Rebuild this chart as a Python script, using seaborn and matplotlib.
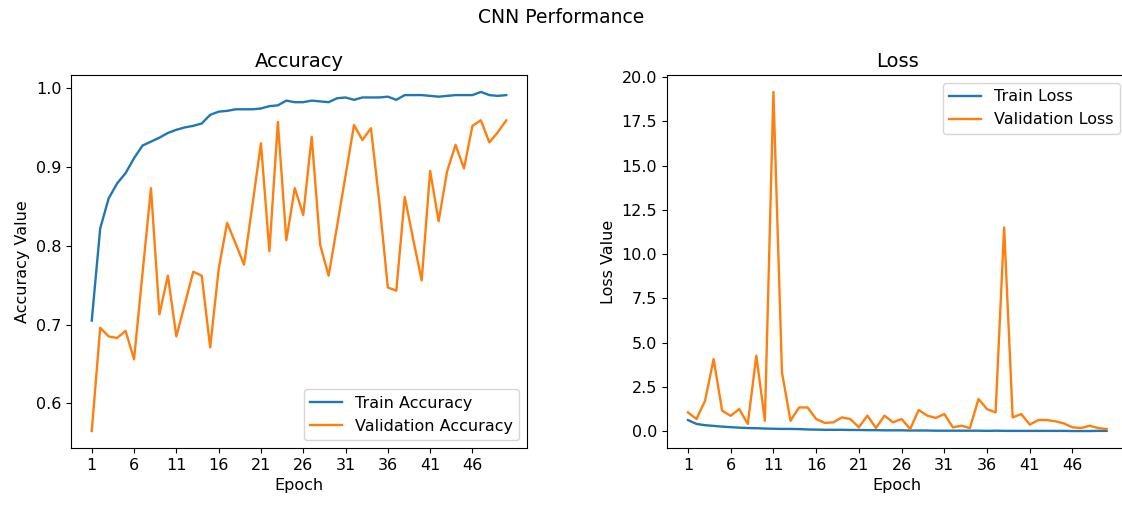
import pandas as pd
import numpy as np
import matplotlib.pyplot as plt
import seaborn as sns

# valores (50 épocas)
epochs = list(range(1, 51))

train_acc = [0.705, 0.822, 0.860, 0.879, 0.892, 0.911, 0.927, 0.932, 0.937, 0.943,
             0.947, 0.950, 0.952, 0.955, 0.966, 0.970, 0.971, 0.973, 0.973, 0.973,
             0.974, 0.977, 0.978, 0.984, 0.982, 0.982, 0.984, 0.983, 0.982, 0.987,
             0.988, 0.985, 0.988, 0.988, 0.988, 0.989, 0.985, 0.991, 0.991, 0.991,
             0.990, 0.989, 0.990, 0.991, 0.991, 0.991, 0.995, 0.991, 0.990, 0.991]

val_acc = [0.565, 0.696, 0.685, 0.683, 0.692, 0.656, 0.765, 0.873, 0.713, 0.762,
           0.685, 0.726, 0.767, 0.762, 0.671, 0.770, 0.829, 0.803, 0.776, 0.852,
           0.930, 0.793, 0.957, 0.807, 0.873, 0.839, 0.938, 0.801, 0.762, 0.825,
           0.889, 0.953, 0.934, 0.949, 0.855, 0.747, 0.743, 0.862, 0.808, 0.756,
           0.895, 0.831, 0.894, 0.928, 0.898, 0.952, 0.959, 0.931, 0.944, 0.959]

train_loss = [0.64, 0.42, 0.35, 0.31, 0.27, 0.24, 0.21, 0.19, 0.18, 0.16,
              0.15, 0.14, 0.14, 0.13, 0.11, 0.10, 0.09, 0.09, 0.09, 0.08,
              0.08, 0.07, 0.07, 0.06, 0.06, 0.06, 0.05, 0.05, 0.05, 0.04,
              0.04, 0.04, 0.04, 0.04, 0.04, 0.03, 0.04, 0.03, 0.03, 0.03,
              0.03, 0.03, 0.03, 0.03, 0.03, 0.02, 0.02, 0.02, 0.03, 0.03]

val_loss = [1.07, 0.70, 1.73, 4.08, 1.17, 0.88, 1.26, 0.42, 4.27, 0.60,
            19.15, 3.33, 0.60, 1.35, 1.35, 0.70, 0.48, 0.51, 0.79, 0.70,
            0.23, 0.89, 0.19, 0.89, 0.51, 0.70, 0.13, 1.21, 0.89, 0.76,
            0.98, 0.23, 0.32, 0.19, 1.83, 1.26, 1.07, 11.5, 0.79, 0.98,
            0.38, 0.64, 0.64, 0.57, 0.45, 0.23, 0.19, 0.32, 0.19, 0.13]

df = pd.DataFrame({'Epoch': epochs, 'train_acc': train_acc, 'val_acc': val_acc,
                   'train_loss': train_loss, 'val_loss': val_loss})

plt.rcParams['font.family'] = ['DejaVu Sans']
plt.rcParams['font.size'] = 11.5

fig = plt.figure(figsize=(11.22, 5.08), dpi=100)
ax1 = fig.add_axes([0.0633, 0.1181, 0.4064, 0.7343])
ax2 = fig.add_axes([0.5945, 0.1181, 0.4105, 0.7343])  # borda direita cortada como no original

fig.suptitle('CNN Performance', y=0.965, va='center', fontsize=13.5)

# Accuracy
sns.lineplot(data=df, x='Epoch', y='train_acc', ax=ax1, color='#1f77b4', linewidth=1.7, label='Train Accuracy')
sns.lineplot(data=df, x='Epoch', y='val_acc', ax=ax1, color='#ff7f0e', linewidth=1.7, label='Validation Accuracy')
ax1.set_xticks(np.arange(1, 51, 5))
ax1.set_title('Accuracy', fontsize=14)
ax1.set_xlabel('Epoch')
ax1.set_ylabel('Accuracy Value')
ax1.legend(loc='lower right')

# Loss
sns.lineplot(data=df, x='Epoch', y='train_loss', ax=ax2, color='#1f77b4', linewidth=1.7, label='Train Loss')
sns.lineplot(data=df, x='Epoch', y='val_loss', ax=ax2, color='#ff7f0e', linewidth=1.7, label='Validation Loss')
ax2.set_xticks(np.arange(1, 51, 5))
ax2.set_title('Loss', fontsize=14)
ax2.set_xlabel('Epoch')
ax2.set_ylabel('Loss Value')
ax2.legend(loc='upper right')

plt.savefig('out.png', dpi=100)
